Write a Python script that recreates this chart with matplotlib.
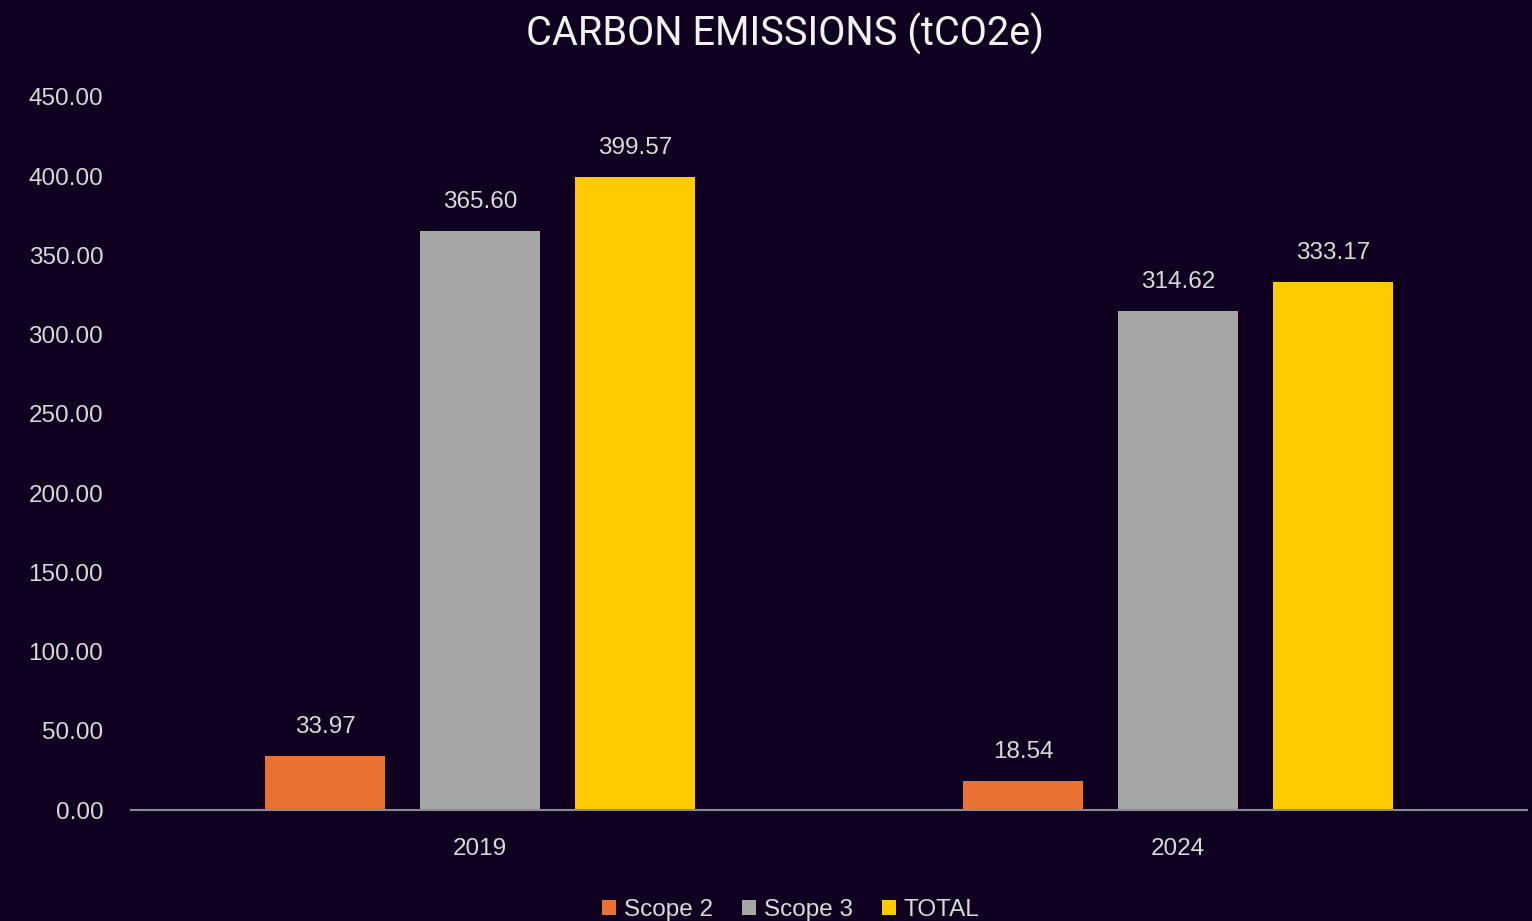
import matplotlib
matplotlib.use("Agg")
import matplotlib.pyplot as plt
import numpy as np

# chart data
years = ["2019", "2024"]
series_names = ["Scope 2", "Scope 3", "TOTAL"]
scope2 = [33.97, 18.54]
scope3 = [365.60, 314.62]
total = [399.57, 333.17]
y_ticks = [0, 50, 100, 150, 200, 250, 300, 350, 400, 450]

colors = ["#E97132", "#A6A6A6", "#FFCA00"]
bg = "#10001F"
text_col = "#D9D9D9"

plt.rcParams["font.family"] = ["Liberation Sans", "DejaVu Sans"]

fig = plt.figure(figsize=(15.32, 9.21), dpi=100, facecolor=bg)
ax = fig.add_axes([0.0855, 0.1205, 0.9112, 0.7742], facecolor=bg)

x = np.arange(len(years))
width = 0.173
step = 0.222
for i, (name, vals) in enumerate(zip(series_names, [scope2, scope3, total])):
    bars = ax.bar(x + (i - 1) * step, vals, width, color=colors[i], label=name)
    ax.bar_label(bars, labels=[f"{v:.2f}" for v in vals], padding=13,
                 color=text_col, fontsize=17.5)

ax.set_xlim(-0.5, 1.5)
ax.set_ylim(0, 450)
ax.set_yticks(y_ticks)
ax.set_yticklabels([f"{t:.2f}" for t in y_ticks])
ax.set_xticks(x)
ax.set_xticklabels(years)
ax.tick_params(axis="y", length=0, pad=20, labelsize=17.5, labelcolor=text_col)
ax.tick_params(axis="x", length=0, pad=20, labelsize=17.5, labelcolor=text_col)

for side in ["top", "right", "left"]:
    ax.spines[side].set_visible(False)
ax.spines["bottom"].set_color("#8C8A99")
ax.spines["bottom"].set_linewidth(1.5)

fig.text(0.5121, 0.9635, "CARBON EMISSIONS (tCO2e)", ha="center", va="center",
         color="#F2F2F2", fontsize=28.5, family=["Roboto", "DejaVu Sans"])

fig.legend(loc="center", bbox_to_anchor=(0.516, 0.012), ncol=3, frameon=False,
           handlelength=0.6, handleheight=0.6, handletextpad=0.3,
           columnspacing=1.2, fontsize=17.5, labelcolor=text_col)

fig.savefig("out.png", dpi=100, facecolor=bg)
